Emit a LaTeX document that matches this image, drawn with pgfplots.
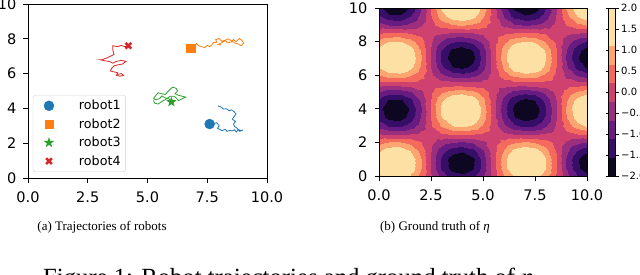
\documentclass[border=0pt]{standalone}
\usepackage{fontspec}
\setmainfont{Liberation Serif}
\newfontfamily\dejavu{DejaVu Sans}
\usepackage{pgfplots}
\pgfplotsset{compat=1.18}
\definecolor{c0}{HTML}{1F77B4}
\definecolor{c1}{HTML}{FF7F0E}
\definecolor{c2}{HTML}{2CA02C}
\definecolor{c3}{HTML}{D62728}
\pgfdeclareplotmark{fstar}{%
 \pgfpathmoveto{\pgfpointpolar{90}{\pgfplotmarksize}}%
 \pgfpathlineto{\pgfpointpolar{126}{0.4\pgfplotmarksize}}%
 \pgfpathlineto{\pgfpointpolar{162}{\pgfplotmarksize}}%
 \pgfpathlineto{\pgfpointpolar{198}{0.4\pgfplotmarksize}}%
 \pgfpathlineto{\pgfpointpolar{234}{\pgfplotmarksize}}%
 \pgfpathlineto{\pgfpointpolar{270}{0.4\pgfplotmarksize}}%
 \pgfpathlineto{\pgfpointpolar{306}{\pgfplotmarksize}}%
 \pgfpathlineto{\pgfpointpolar{342}{0.4\pgfplotmarksize}}%
 \pgfpathlineto{\pgfpointpolar{18}{\pgfplotmarksize}}%
 \pgfpathlineto{\pgfpointpolar{54}{0.4\pgfplotmarksize}}%
 \pgfpathclose\pgfusepathqfill}
\pgfplotsset{
 mplaxis/.style={scale only axis, xmin=0, xmax=10, ymin=0, ymax=10,
  xtick={0,2.5,5,7.5,10}, xticklabels={0.0,2.5,5.0,7.5,10.0},
  ytick={0,2,4,6,8,10}, yticklabels={0,2,4,6,8,10},
  tick pos=left, tick align=outside, major tick length=4.5pt,
  tick style={black, line width=0.8pt}, axis line style={line width=0.8pt},
  tick label style={font=\dejavu\fontsize{14.5}{16}\selectfont},
  xticklabel style={inner sep=0pt, yshift=-9pt},
  yticklabel style={inner sep=0pt, xshift=-7pt}},
}
\begin{document}
\begin{tikzpicture}
\begin{scope}
\clip (0,0) rectangle (640pt,274pt);
\begin{axis}[mplaxis, at={(28pt,96pt)}, anchor=south west, width=239pt, height=174pt,
 legend style={at={(0.02,0.035)}, anchor=south west, draw=black!18, rounded corners=2.5pt,
  fill=white, inner xsep=3pt, inner ysep=3pt, row sep=3.3pt,
  font=\dejavu\fontsize{12.7}{14}\selectfont, nodes={inner sep=2pt}},
 legend cell align=left,
 legend image code/.code={\path[draw=none, fill=none] (0pt,-4pt) rectangle (41pt,4pt); \draw[#1] plot coordinates {(13pt,0pt)};}]
% robot1
\addplot[c0, line width=0.8pt, forget plot] coordinates {(7.6,3.1) (7.7,3.22) (7.8,3.14) (7.9,3.18) (8.0,3.0) (7.93,2.86) (8.05,2.78) (8.12,2.72) (8.25,2.8) (8.33,2.68) (8.45,2.74) (8.55,2.7) (8.63,2.78) (8.72,2.64) (8.8,2.8) (8.9,2.72) (9.0,2.76) (8.86,2.68) (8.75,2.86) (8.64,2.96) (8.6,3.1) (8.68,3.25) (8.55,3.38) (8.62,3.52) (8.7,3.68) (8.62,3.82) (8.5,3.92) (8.42,3.86) (8.3,3.98) (8.18,3.96) (8.08,4.08) (7.95,4.15)};
\addplot[only marks, mark=*, mark size=5pt, c0] coordinates {(7.6,3.1)};
\addlegendentry{robot1}
% robot2
\addplot[c1, line width=0.8pt, forget plot] coordinates {(6.8,7.47) (6.95,7.55) (7.05,7.72) (7.15,7.6) (7.25,7.55) (7.4,7.5) (7.5,7.62) (7.6,7.55) (7.7,7.66) (7.75,7.78) (7.9,7.8) (7.85,7.95) (8.0,8.02) (8.1,7.86) (8.25,7.92) (8.35,7.76) (8.5,7.82) (8.6,7.96) (8.7,7.84) (8.85,8.02) (8.95,7.9) (9.02,7.75) (8.92,7.6) (8.8,7.7) (8.65,7.76) (8.5,7.9) (8.35,8.0) (8.2,7.85) (8.05,7.74) (7.95,7.68) (8.1,7.64)};
\addplot[only marks, mark=square*, mark size=4.2pt, c1] coordinates {(6.8,7.47)};
\addlegendentry{robot2}
% robot3
\addplot[c2, line width=0.8pt, forget plot] coordinates {(6.0,4.37) (5.9,4.55) (5.75,4.6) (5.6,4.72) (5.5,4.56) (5.35,4.5) (5.25,4.56) (5.35,4.75) (5.45,4.9) (5.6,4.84) (5.75,4.8) (5.85,4.96) (5.95,5.1) (6.05,5.22) (6.2,5.15) (6.26,5.0) (6.15,4.85) (6.3,4.75) (6.45,4.7) (6.6,4.65) (6.45,4.55) (6.3,4.45) (6.2,4.6) (6.1,4.7) (5.95,4.7) (5.8,4.55) (5.6,4.4) (5.45,4.25) (5.3,4.3) (5.25,4.45)};
\addplot[only marks, mark=fstar, mark size=5.5pt, c2] coordinates {(6.0,4.37)};
\addlegendentry{robot3}
% robot4
\addplot[c3, line width=0.8pt, forget plot] coordinates {(4.2,7.6) (4.05,7.55) (3.9,7.62) (3.75,7.55) (3.55,7.6) (3.55,7.35) (3.6,7.1) (3.45,7.0) (3.3,6.9) (3.1,6.8) (3.0,6.8) (3.2,6.74) (3.4,6.7) (3.55,6.6) (3.7,6.7) (3.9,6.76) (4.1,6.7) (3.95,6.55) (3.75,6.5) (3.6,6.45) (3.5,6.3) (3.45,6.15) (3.6,6.1) (3.75,6.05) (3.7,5.9) (3.85,5.85) (4.0,5.9) (3.9,6.0) (3.75,5.95)};
\addplot[only marks, mark=x, mark size=4pt, line width=2.6pt, c3] coordinates {(4.2,7.6)};
\addlegendentry{robot4}
\end{axis}
\begin{axis}[mplaxis, at={(379pt,98pt)}, anchor=south west, width=208pt, height=168pt, axis on top,
 colormap={magmad}{rgb255=(13,7,34) rgb255=(54,14,104) rgb255=(104,27,128) rgb255=(156,46,126) rgb255=(207,66,111) rgb255=(244,107,94) rgb255=(253,165,113) rgb255=(253,224,163) rgb255=(253,224,163)},
 colormap access=piecewise constant, point meta min=-2, point meta max=2,
 colorbar, colorbar style={at={(parent axis.north east)}, anchor=north west, xshift=13pt,
  scale only axis, width=7pt, height=168pt,
  ytick={-2,-1.5,-1,-0.5,0,0.5,1,1.5,2},
  yticklabels={−2.0,−1.5,−1.0,−0.5,0.0,0.5,1.0,1.5,2.0},
  yticklabel style={font=\dejavu\fontsize{10}{12}\selectfont, inner sep=0pt, xshift=2.5pt},
  tick align=outside, major tick length=3pt, tick style={black, line width=0.6pt},
  axis line style={line width=0.6pt}}]
\addplot[surf, shader=interp, mesh/cols=21, point meta=explicit] coordinates {
(0,0)[1.00] (0.5,0)[1.36] (1,0)[1.38] (1.5,0)[1.07] (2,0)[0.49] (2.5,0)[-0.20] (3,0)[-0.85] (3.5,0)[-1.29] (4,0)[-1.41] (4.5,0)[-1.19] (5,0)[-0.68] (5.5,0)[0.003] (6,0)[0.68] (6.5,0)[1.19] (7,0)[1.41] (7.5,0)[1.29] (8,0)[0.84] (8.5,0)[0.20] (9,0)[-0.50] (9.5,0)[-1.07] (10,0)[-1.38]

(0,0.5)[1.36] (0.5,0.5)[1.84] (1,0.5)[1.88] (1.5,0.5)[1.45] (2,0.5)[0.67] (2.5,0.5)[-0.28] (3,0.5)[-1.15] (3.5,0.5)[-1.75] (4,0.5)[-1.91] (4.5,0.5)[-1.61] (5,0.5)[-0.92] (5.5,0.5)[0.004] (6,0.5)[0.92] (6.5,0.5)[1.62] (7,0.5)[1.91] (7.5,0.5)[1.74] (8,0.5)[1.15] (8.5,0.5)[0.27] (9,0.5)[-0.68] (9.5,0.5)[-1.45] (10,0.5)[-1.88]

(0,1)[1.38] (0.5,1)[1.88] (1,1)[1.91] (1.5,1)[1.48] (2,1)[0.68] (2.5,1)[-0.28] (3,1)[-1.17] (3.5,1)[-1.78] (4,1)[-1.95] (4.5,1)[-1.64] (5,1)[-0.93] (5.5,1)[0.004] (6,1)[0.94] (6.5,1)[1.65] (7,1)[1.95] (7.5,1)[1.78] (8,1)[1.17] (8.5,1)[0.27] (9,1)[-0.69] (9.5,1)[-1.48] (10,1)[-1.91]

(0,1.5)[1.07] (0.5,1.5)[1.45] (1,1.5)[1.48] (1.5,1.5)[1.14] (2,1.5)[0.53] (2.5,1.5)[-0.22] (3,1.5)[-0.91] (3.5,1.5)[-1.37] (4,1.5)[-1.51] (4.5,1.5)[-1.27] (5,1.5)[-0.72] (5.5,1.5)[0.003] (6,1.5)[0.73] (6.5,1.5)[1.27] (7,1.5)[1.51] (7.5,1.5)[1.37] (8,1.5)[0.90] (8.5,1.5)[0.21] (9,1.5)[-0.53] (9.5,1.5)[-1.14] (10,1.5)[-1.48]

(0,2)[0.49] (0.5,2)[0.67] (1,2)[0.68] (1.5,2)[0.53] (2,2)[0.24] (2.5,2)[-0.10] (3,2)[-0.42] (3.5,2)[-0.63] (4,2)[-0.70] (4.5,2)[-0.59] (5,2)[-0.33] (5.5,2)[0.001] (6,2)[0.34] (6.5,2)[0.59] (7,2)[0.70] (7.5,2)[0.63] (8,2)[0.42] (8.5,2)[0.10] (9,2)[-0.25] (9.5,2)[-0.53] (10,2)[-0.68]

(0,2.5)[-0.20] (0.5,2.5)[-0.28] (1,2.5)[-0.28] (1.5,2.5)[-0.22] (2,2.5)[-0.10] (2.5,2.5)[0.04] (3,2.5)[0.17] (3.5,2.5)[0.26] (4,2.5)[0.29] (4.5,2.5)[0.24] (5,2.5)[0.14] (5.5,2.5)[-0.001] (6,2.5)[-0.14] (6.5,2.5)[-0.24] (7,2.5)[-0.29] (7.5,2.5)[-0.26] (8,2.5)[-0.17] (8.5,2.5)[-0.04] (9,2.5)[0.10] (9.5,2.5)[0.22] (10,2.5)[0.28]

(0,3)[-0.85] (0.5,3)[-1.15] (1,3)[-1.17] (1.5,3)[-0.91] (2,3)[-0.42] (2.5,3)[0.17] (3,3)[0.72] (3.5,3)[1.09] (4,3)[1.20] (4.5,3)[1.01] (5,3)[0.57] (5.5,3)[-0.003] (6,3)[-0.58] (6.5,3)[-1.01] (7,3)[-1.20] (7.5,3)[-1.09] (8,3)[-0.72] (8.5,3)[-0.17] (9,3)[0.42] (9.5,3)[0.91] (10,3)[1.17]

(0,3.5)[-1.29] (0.5,3.5)[-1.75] (1,3.5)[-1.78] (1.5,3.5)[-1.37] (2,3.5)[-0.63] (2.5,3.5)[0.26] (3,3.5)[1.09] (3.5,3.5)[1.66] (4,3.5)[1.81] (4.5,3.5)[1.53] (5,3.5)[0.87] (5.5,3.5)[-0.004] (6,3.5)[-0.88] (6.5,3.5)[-1.53] (7,3.5)[-1.82] (7.5,3.5)[-1.65] (8,3.5)[-1.09] (8.5,3.5)[-0.25] (9,3.5)[0.64] (9.5,3.5)[1.38] (10,3.5)[1.78]

(0,4)[-1.41] (0.5,4)[-1.91] (1,4)[-1.95] (1.5,4)[-1.51] (2,4)[-0.70] (2.5,4)[0.29] (3,4)[1.20] (3.5,4)[1.81] (4,4)[1.99] (4.5,4)[1.68] (5,4)[0.95] (5.5,4)[-0.004] (6,4)[-0.96] (6.5,4)[-1.68] (7,4)[-1.99] (7.5,4)[-1.81] (8,4)[-1.19] (8.5,4)[-0.28] (9,4)[0.70] (9.5,4)[1.51] (10,4)[1.95]

(0,4.5)[-1.19] (0.5,4.5)[-1.61] (1,4.5)[-1.64] (1.5,4.5)[-1.27] (2,4.5)[-0.59] (2.5,4.5)[0.24] (3,4.5)[1.01] (3.5,4.5)[1.53] (4,4.5)[1.68] (4.5,4.5)[1.41] (5,4.5)[0.80] (5.5,4.5)[-0.004] (6,4.5)[-0.81] (6.5,4.5)[-1.42] (7,4.5)[-1.68] (7.5,4.5)[-1.53] (8,4.5)[-1.00] (8.5,4.5)[-0.23] (9,4.5)[0.59] (9.5,4.5)[1.27] (10,4.5)[1.64]

(0,5)[-0.68] (0.5,5)[-0.92] (1,5)[-0.93] (1.5,5)[-0.72] (2,5)[-0.33] (2.5,5)[0.14] (3,5)[0.57] (3.5,5)[0.87] (4,5)[0.95] (4.5,5)[0.80] (5,5)[0.46] (5.5,5)[-0.002] (6,5)[-0.46] (6.5,5)[-0.80] (7,5)[-0.95] (7.5,5)[-0.87] (8,5)[-0.57] (8.5,5)[-0.13] (9,5)[0.34] (9.5,5)[0.72] (10,5)[0.93]

(0,5.5)[0.003] (0.5,5.5)[0.004] (1,5.5)[0.004] (1.5,5.5)[0.003] (2,5.5)[0.001] (2.5,5.5)[-0.001] (3,5.5)[-0.003] (3.5,5.5)[-0.004] (4,5.5)[-0.004] (4.5,5.5)[-0.004] (5,5.5)[-0.002] (5.5,5.5)[0.000] (6,5.5)[0.002] (6.5,5.5)[0.004] (7,5.5)[0.004] (7.5,5.5)[0.004] (8,5.5)[0.003] (8.5,5.5)[0.001] (9,5.5)[-0.001] (9.5,5.5)[-0.003] (10,5.5)[-0.004]

(0,6)[0.68] (0.5,6)[0.92] (1,6)[0.94] (1.5,6)[0.73] (2,6)[0.34] (2.5,6)[-0.14] (3,6)[-0.58] (3.5,6)[-0.88] (4,6)[-0.96] (4.5,6)[-0.81] (5,6)[-0.46] (5.5,6)[0.002] (6,6)[0.46] (6.5,6)[0.81] (7,6)[0.96] (7.5,6)[0.88] (8,6)[0.57] (8.5,6)[0.13] (9,6)[-0.34] (9.5,6)[-0.73] (10,6)[-0.94]

(0,6.5)[1.19] (0.5,6.5)[1.62] (1,6.5)[1.65] (1.5,6.5)[1.27] (2,6.5)[0.59] (2.5,6.5)[-0.24] (3,6.5)[-1.01] (3.5,6.5)[-1.53] (4,6.5)[-1.68] (4.5,6.5)[-1.42] (5,6.5)[-0.80] (5.5,6.5)[0.004] (6,6.5)[0.81] (6.5,6.5)[1.42] (7,6.5)[1.68] (7.5,6.5)[1.53] (8,6.5)[1.01] (8.5,6.5)[0.23] (9,6.5)[-0.59] (9.5,6.5)[-1.28] (10,6.5)[-1.65]

(0,7)[1.41] (0.5,7)[1.91] (1,7)[1.95] (1.5,7)[1.51] (2,7)[0.70] (2.5,7)[-0.29] (3,7)[-1.20] (3.5,7)[-1.82] (4,7)[-1.99] (4.5,7)[-1.68] (5,7)[-0.95] (5.5,7)[0.004] (6,7)[0.96] (6.5,7)[1.68] (7,7)[1.99] (7.5,7)[1.81] (8,7)[1.19] (8.5,7)[0.28] (9,7)[-0.70] (9.5,7)[-1.51] (10,7)[-1.95]

(0,7.5)[1.29] (0.5,7.5)[1.74] (1,7.5)[1.78] (1.5,7.5)[1.37] (2,7.5)[0.63] (2.5,7.5)[-0.26] (3,7.5)[-1.09] (3.5,7.5)[-1.65] (4,7.5)[-1.81] (4.5,7.5)[-1.53] (5,7.5)[-0.87] (5.5,7.5)[0.004] (6,7.5)[0.88] (6.5,7.5)[1.53] (7,7.5)[1.81] (7.5,7.5)[1.65] (8,7.5)[1.08] (8.5,7.5)[0.25] (9,7.5)[-0.64] (9.5,7.5)[-1.38] (10,7.5)[-1.78]

(0,8)[0.84] (0.5,8)[1.15] (1,8)[1.17] (1.5,8)[0.90] (2,8)[0.42] (2.5,8)[-0.17] (3,8)[-0.72] (3.5,8)[-1.09] (4,8)[-1.19] (4.5,8)[-1.00] (5,8)[-0.57] (5.5,8)[0.003] (6,8)[0.57] (6.5,8)[1.01] (7,8)[1.19] (7.5,8)[1.08] (8,8)[0.71] (8.5,8)[0.17] (9,8)[-0.42] (9.5,8)[-0.90] (10,8)[-1.17]

(0,8.5)[0.20] (0.5,8.5)[0.27] (1,8.5)[0.27] (1.5,8.5)[0.21] (2,8.5)[0.10] (2.5,8.5)[-0.04] (3,8.5)[-0.17] (3.5,8.5)[-0.25] (4,8.5)[-0.28] (4.5,8.5)[-0.23] (5,8.5)[-0.13] (5.5,8.5)[0.001] (6,8.5)[0.13] (6.5,8.5)[0.23] (7,8.5)[0.28] (7.5,8.5)[0.25] (8,8.5)[0.17] (8.5,8.5)[0.04] (9,8.5)[-0.10] (9.5,8.5)[-0.21] (10,8.5)[-0.27]

(0,9)[-0.50] (0.5,9)[-0.68] (1,9)[-0.69] (1.5,9)[-0.53] (2,9)[-0.25] (2.5,9)[0.10] (3,9)[0.42] (3.5,9)[0.64] (4,9)[0.70] (4.5,9)[0.59] (5,9)[0.34] (5.5,9)[-0.001] (6,9)[-0.34] (6.5,9)[-0.59] (7,9)[-0.70] (7.5,9)[-0.64] (8,9)[-0.42] (8.5,9)[-0.10] (9,9)[0.25] (9.5,9)[0.53] (10,9)[0.69]

(0,9.5)[-1.07] (0.5,9.5)[-1.45] (1,9.5)[-1.48] (1.5,9.5)[-1.14] (2,9.5)[-0.53] (2.5,9.5)[0.22] (3,9.5)[0.91] (3.5,9.5)[1.38] (4,9.5)[1.51] (4.5,9.5)[1.27] (5,9.5)[0.72] (5.5,9.5)[-0.003] (6,9.5)[-0.73] (6.5,9.5)[-1.28] (7,9.5)[-1.51] (7.5,9.5)[-1.38] (8,9.5)[-0.90] (8.5,9.5)[-0.21] (9,9.5)[0.53] (9.5,9.5)[1.15] (10,9.5)[1.48]

(0,10)[-1.38] (0.5,10)[-1.88] (1,10)[-1.91] (1.5,10)[-1.48] (2,10)[-0.68] (2.5,10)[0.28] (3,10)[1.17] (3.5,10)[1.78] (4,10)[1.95] (4.5,10)[1.64] (5,10)[0.93] (5.5,10)[-0.004] (6,10)[-0.94] (6.5,10)[-1.65] (7,10)[-1.95] (7.5,10)[-1.78] (8,10)[-1.17] (8.5,10)[-0.27] (9,10)[0.69] (9.5,10)[1.48] (10,10)[1.91]
};
\end{axis}
\node[anchor=base, font=\fontsize{13}{15}\selectfont] at (102pt,44pt) {(a) Trajectories of robots};
\node[anchor=base, font=\fontsize{13}{15}\selectfont] at (435pt,44pt) {(b) Ground truth of \textit{η}};
\node[anchor=base west, inner sep=0pt, font=\fontsize{24.7}{28}\selectfont] at (43pt,-11pt) {Figure 1: Robot trajectories and ground truth of \textit{η}.};
\end{scope}
\pgfresetboundingbox
\useasboundingbox (0,0) rectangle (640pt,274pt);
\end{tikzpicture}
\end{document}
